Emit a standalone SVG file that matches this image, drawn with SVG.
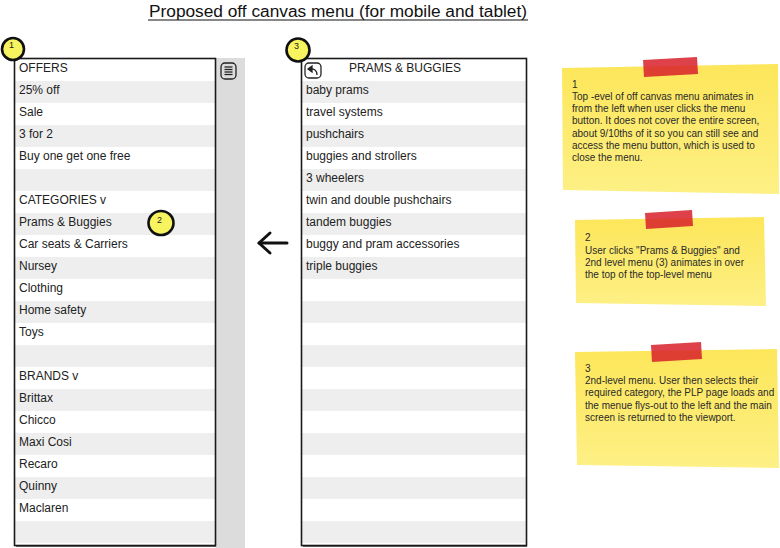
<svg xmlns="http://www.w3.org/2000/svg" width="780" height="548" viewBox="0 0 780 548">
<defs>
<linearGradient id="note" x1="0" y1="0" x2="0" y2="1">
<stop offset="0" stop-color="#fde65a"/>
<stop offset="1" stop-color="#fdf085"/>
</linearGradient>
</defs>
<style>
.t{font-family:"Liberation Sans",Arial,sans-serif;font-size:12px;fill:#222}
.n{font-family:"Liberation Sans",Arial,sans-serif;font-size:10px;fill:#2a2a2a}
.b{font-family:"Liberation Sans",Arial,sans-serif;font-size:9px;fill:#222}
.g{fill:#eeeeee}
.frame{fill:none;stroke:#1a1a1a;stroke-width:1.6}
.badge{fill:#f8f460;stroke:#111;stroke-width:2.6}
.tape{fill:#d8202a;fill-opacity:0.85}
.sticky{fill:url(#note)}
</style>
<rect x="0" y="0" width="780" height="548" fill="#ffffff"/>

<g id="title">
<text x="338" y="17" text-anchor="middle" font-family="'Liberation Sans',Arial,sans-serif" font-size="16" fill="#111" textLength="378" lengthAdjust="spacingAndGlyphs">Proposed off canvas menu (for mobile and tablet)</text>
<line x1="148" y1="20" x2="528" y2="20" stroke="#111" stroke-width="1.2"/>
</g>

<g id="screen-strip">
<rect x="216" y="58" width="29" height="490" fill="#dcdcdc"/>
<g id="menu-button" fill="none" stroke="#222" stroke-width="1.3">
<rect x="221" y="63" width="15" height="16" rx="4"/>
<line x1="224.5" y1="67" x2="232.5" y2="67"/>
<line x1="224.5" y1="69.5" x2="232.5" y2="69.5"/>
<line x1="224.5" y1="72" x2="232.5" y2="72"/>
<line x1="224.5" y1="74.5" x2="232.5" y2="74.5"/>
</g>
</g>

<g id="top-level-menu">
<rect x="15" y="59" width="200" height="486" fill="#ffffff"/>
<rect class="g" x="15" y="81" width="200" height="22"/>
<rect class="g" x="15" y="125" width="200" height="22"/>
<rect class="g" x="15" y="169" width="200" height="22"/>
<rect class="g" x="15" y="213" width="200" height="22"/>
<rect class="g" x="15" y="257" width="200" height="22"/>
<rect class="g" x="15" y="301" width="200" height="22"/>
<rect class="g" x="15" y="345" width="200" height="22"/>
<rect class="g" x="15" y="389" width="200" height="22"/>
<rect class="g" x="15" y="433" width="200" height="22"/>
<rect class="g" x="15" y="477" width="200" height="22"/>
<rect class="g" x="15" y="521" width="200" height="22"/>
<rect class="frame" x="14.5" y="58.5" width="201" height="487"/>
<line x1="16" y1="546.5" x2="216" y2="546.5" stroke="#555" stroke-width="1"/>
<text class="t" x="19" y="72">OFFERS</text>
<text class="t" x="19" y="94">25% off</text>
<text class="t" x="19" y="116">Sale</text>
<text class="t" x="19" y="138">3 for 2</text>
<text class="t" x="19" y="160">Buy one get one free</text>
<text class="t" x="19" y="204">CATEGORIES v</text>
<text class="t" x="19" y="226">Prams &amp; Buggies</text>
<text class="t" x="19" y="248">Car seats &amp; Carriers</text>
<text class="t" x="19" y="270">Nursey</text>
<text class="t" x="19" y="292">Clothing</text>
<text class="t" x="19" y="314">Home safety</text>
<text class="t" x="19" y="336">Toys</text>
<text class="t" x="19" y="380">BRANDS v</text>
<text class="t" x="19" y="402">Brittax</text>
<text class="t" x="19" y="424">Chicco</text>
<text class="t" x="19" y="446">Maxi Cosi</text>
<text class="t" x="19" y="468">Recaro</text>
<text class="t" x="19" y="490">Quinny</text>
<text class="t" x="19" y="512">Maclaren</text>
</g>

<g id="second-level-menu">
<rect x="302" y="59" width="224" height="486" fill="#ffffff"/>
<rect class="g" x="302" y="81" width="224" height="22"/>
<rect class="g" x="302" y="125" width="224" height="22"/>
<rect class="g" x="302" y="169" width="224" height="22"/>
<rect class="g" x="302" y="213" width="224" height="22"/>
<rect class="g" x="302" y="257" width="224" height="22"/>
<rect class="g" x="302" y="301" width="224" height="22"/>
<rect class="g" x="302" y="345" width="224" height="22"/>
<rect class="g" x="302" y="389" width="224" height="22"/>
<rect class="g" x="302" y="433" width="224" height="22"/>
<rect class="g" x="302" y="477" width="224" height="22"/>
<rect class="g" x="302" y="521" width="224" height="22"/>
<rect class="frame" x="301.5" y="58.5" width="225" height="487"/>
<line x1="303" y1="546.5" x2="527" y2="546.5" stroke="#555" stroke-width="1"/>
<g id="back-button" fill="none" stroke="#222" stroke-width="1.3">
<rect x="305" y="63" width="16" height="15" rx="4"/>
<path d="M317 75 C317 70 314 68.5 310 69" />
<path d="M308 69 L312 66 L312 72 Z" fill="#222"/>
</g>
<text class="t" x="405" y="72" text-anchor="middle">PRAMS &amp; BUGGIES</text>
<text class="t" x="306" y="94">baby prams</text>
<text class="t" x="306" y="116">travel systems</text>
<text class="t" x="306" y="138">pushchairs</text>
<text class="t" x="306" y="160">buggies and strollers</text>
<text class="t" x="306" y="182">3 wheelers</text>
<text class="t" x="306" y="204">twin and double pushchairs</text>
<text class="t" x="306" y="226">tandem buggies</text>
<text class="t" x="306" y="248">buggy and pram accessories</text>
<text class="t" x="306" y="270">triple buggies</text>
</g>

<g id="connectors" fill="none" stroke="#111" stroke-width="3" stroke-linecap="round" stroke-linejoin="round">
<line x1="287" y1="243" x2="259" y2="243"/>
<polyline points="270,233 259,243 270,253"/>
</g>

<g id="badge-1">
<circle class="badge" cx="13" cy="49" r="11"/>
<text class="b" x="9" y="48">1</text>
</g>
<g id="badge-2">
<ellipse class="badge" cx="161" cy="223" rx="12.5" ry="12"/>
<text class="b" x="157" y="223">2</text>
</g>
<g id="badge-3">
<circle class="badge" cx="298" cy="50" r="11.5"/>
<text class="b" x="294" y="49">3</text>
</g>

<g id="note-1">
<polygon class="sticky" points="562,68 778,64 779,194 563,190"/>
<polygon class="tape" points="643,60 697,57 698,74 644,77"/>
<text class="n" x="572" y="88">1</text>
<text class="n" x="572" y="100">Top -evel of off canvas menu animates in</text>
<text class="n" x="572" y="112">from the left when user clicks the menu</text>
<text class="n" x="572" y="124">button.  It does not cover the entire screen,</text>
<text class="n" x="572" y="137">about 9/10ths of it so you can still see and</text>
<text class="n" x="572" y="149">access the menu button, which is used to</text>
<text class="n" x="572" y="161">close the menu.</text>
</g>

<g id="note-2">
<polygon class="sticky" points="575,220 764,217 766,306 576,303"/>
<polygon class="tape" points="645,213 692,210 693,226 646,229"/>
<text class="n" x="585" y="241">2</text>
<text class="n" x="585" y="254">User clicks "Prams &amp; Buggies" and</text>
<text class="n" x="585" y="266">2nd level menu (3) animates in over</text>
<text class="n" x="585" y="278">the top of the top-level  menu</text>
</g>

<g id="note-3">
<polygon class="sticky" points="575,352 777,349 779,468 577,465"/>
<polygon class="tape" points="651,345 701,342 702,359 652,362"/>
<text class="n" x="585" y="372">3</text>
<text class="n" x="585" y="384">2nd-level menu.  User then selects their</text>
<text class="n" x="585" y="396">required category, the PLP page loads and</text>
<text class="n" x="585" y="409">the menue flys-out to the left and the main</text>
<text class="n" x="585" y="421">screen is returned to the viewport.</text>
</g>
</svg>
